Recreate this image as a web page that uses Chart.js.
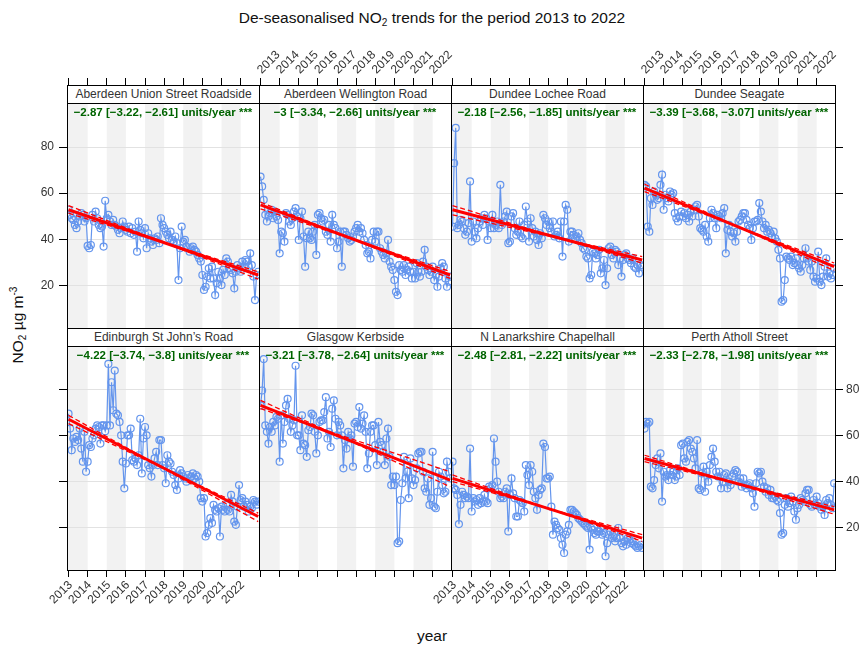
<!DOCTYPE html>
<html>
<head>
<meta charset="utf-8">
<script src="https://cdn.jsdelivr.net/npm/chart.js@4.4.1/dist/chart.umd.min.js"></script>
<style>
html,body{margin:0;padding:0;background:#fff;}
#wrap{position:relative;width:864px;height:648px;overflow:hidden;background:#fff;font-family:"Liberation Sans",Arial,Helvetica,sans-serif;}
#wrap canvas{position:absolute;left:0;top:0;}
.strip{position:absolute;box-sizing:border-box;border:1px solid #000;background:#fff;font-size:12px;color:#333;text-align:center;white-space:nowrap;}
.note{position:absolute;font-size:11.5px;font-weight:bold;color:#006400;text-align:center;white-space:nowrap;line-height:14px;}
#title{position:absolute;left:0;width:864px;top:9px;text-align:center;font-size:15.5px;line-height:18px;color:#111;}
#ylab{position:absolute;left:18px;top:325px;transform:translate(-50%,-50%) rotate(-90deg);white-space:nowrap;font-size:15.5px;color:#111;}
#xlab{position:absolute;left:432px;top:636px;transform:translate(-50%,-50%);font-size:15.5px;color:#111;}
sub{font-size:65%;vertical-align:-0.3em;line-height:0;}
sup{font-size:65%;vertical-align:0.6em;line-height:0;}
</style>
</head>
<body>
<div id="wrap">
  <div id="title">De-seasonalised NO<sub>2</sub> trends for the period 2013 to 2022</div>
  <div id="ylab">NO<sub>2</sub> µg m<sup>-3</sup></div>
  <div id="xlab">year</div>
</div>
<script>
// ---------- data ----------
const tickYears = [2013, 2014, 2015, 2016, 2017, 2018, 2019, 2020, 2021, 2022];
const tickLabels = ['2013', '2014', '2015', '2016', '2017', '2018', '2019', '2020', '2021', '2022'];
const yTicks = [20, 40, 60, 80];

const siteNames = [
  'Aberdeen Union Street Roadside', 'Aberdeen Wellington Road', 'Dundee Lochee Road', 'Dundee Seagate',
  'Edinburgh St John\u2019s Road', 'Glasgow Kerbside', 'N Lanarkshire Chapelhall', 'Perth Atholl Street'
];
const trendText = [
  '\u22122.87 [\u22123.22, \u22122.61] units/year ***',
  '\u22123 [\u22123.34, \u22122.66] units/year ***',
  '\u22122.18 [\u22122.56, \u22121.85] units/year ***',
  '\u22123.39 [\u22123.68, \u22123.07] units/year ***',
  '\u22124.22 [\u22123.74, \u22123.8] units/year ***',
  '\u22123.21 [\u22123.78, \u22122.64] units/year ***',
  '\u22122.48 [\u22122.81, \u22122.22] units/year ***',
  '\u22122.33 [\u22122.78, \u22121.98] units/year ***'
];

// monthly de-seasonalised NO2, Jan 2013 .. Dec 2022
const aberdeenUnion = [
  52.8, 50.6, 49.1, 48.4, 46.2, 44.8, 47.7, 49.9, 51.3, 50.6, 47.7, 49.1,
  37.1, 36.1, 37.5, 50.6, 47.7, 52.0, 49.1, 46.2, 44.8, 45.5, 36.8, 56.7,
  49.1, 50.6, 47.7, 46.2, 48.4, 46.2, 45.5, 44.1, 42.6, 44.8, 47.7, 45.5,
  44.1, 43.3, 45.5, 42.6, 44.8, 41.9, 43.3, 34.6, 47.7, 44.1, 42.6, 40.4,
  44.8, 36.1, 42.6, 40.4, 39.0, 37.5, 40.4, 39.7, 41.2, 38.3, 49.1, 46.2,
  44.8, 43.3, 41.9, 40.4, 43.3, 39.7, 39.0, 41.2, 38.3, 22.3, 36.1, 45.5,
  39.0, 39.7, 36.8, 36.1, 34.6, 36.1, 36.8, 35.4, 34.6, 33.2, 31.7, 30.3,
  24.5, 18.0, 19.4, 23.8, 27.4, 23.0, 28.1, 23.0, 15.8, 20.9, 25.9, 23.0,
  20.1, 26.7, 24.5, 31.7, 30.3, 27.4, 26.7, 25.2, 18.7, 25.9, 28.8, 27.4,
  25.9, 30.3, 28.1, 31.0, 30.3, 28.1, 33.9, 28.8, 23.8, 13.6, 24.5, 25.9
];
const aberdeenWellington = [
  67.2, 62.9, 57.1, 50.6, 47.7, 49.9, 51.3, 52.8, 49.1, 52.0, 49.9, 48.4,
  33.9, 43.3, 42.6, 39.0, 51.3, 50.6, 47.7, 46.2, 49.1, 52.0, 53.5, 49.9,
  39.7, 49.1, 52.0, 41.2, 28.1, 40.4, 43.3, 40.4, 39.7, 43.3, 46.2, 33.2,
  50.6, 51.3, 49.1, 47.7, 48.4, 43.3, 41.9, 46.2, 39.0, 50.6, 46.2, 44.8,
  36.1, 39.0, 43.3, 28.1, 43.3, 43.3, 41.9, 40.4, 39.0, 39.7, 41.2, 43.3,
  44.8, 46.2, 43.3, 44.8, 42.6, 39.7, 37.5, 33.9, 34.6, 31.7, 39.7, 43.3,
  39.0, 43.3, 43.3, 36.1, 34.6, 33.2, 31.7, 33.9, 39.7, 30.3, 28.1, 26.7,
  22.3, 17.2, 15.8, 28.8, 26.7, 25.9, 28.8, 24.5, 26.7, 28.1, 25.9, 23.0,
  25.9, 23.0, 29.6, 25.9, 23.8, 25.9, 30.3, 35.4, 28.1, 26.7, 24.5, 25.9,
  28.1, 22.3, 24.5, 19.4, 23.8, 27.4, 29.6, 28.1, 23.0, 19.4, 21.6, 23.8
];
const dundeeLochee = [
  45.5, 73.0, 88.3, 44.8, 46.2, 48.4, 47.7, 44.8, 41.9, 43.3, 47.0, 65.1,
  39.0, 47.7, 43.3, 40.4, 44.8, 47.7, 49.1, 46.2, 50.6, 49.1, 39.7, 47.7,
  44.8, 50.6, 44.8, 46.2, 47.7, 44.8, 63.6, 46.2, 47.7, 49.9, 52.0, 38.3,
  39.0, 49.9, 51.3, 44.8, 41.9, 43.3, 47.7, 41.2, 40.4, 46.2, 54.2, 47.7,
  39.0, 49.1, 44.8, 41.2, 43.3, 39.7, 37.5, 42.6, 40.4, 50.6, 49.1, 46.2,
  47.7, 44.8, 43.3, 47.7, 41.2, 41.9, 43.3, 40.4, 47.7, 32.5, 47.7, 54.9,
  52.8, 39.0, 43.3, 43.3, 41.9, 40.4, 41.2, 42.6, 39.7, 38.3, 36.1, 35.4,
  32.5, 31.7, 23.0, 24.5, 34.6, 33.9, 31.7, 33.2, 35.4, 25.2, 27.4, 31.0,
  20.1, 27.4, 36.1, 36.8, 33.2, 31.7, 35.4, 34.6, 28.8, 31.7, 23.8, 31.0,
  33.2, 33.9, 31.7, 31.0, 29.6, 31.7, 28.1, 27.4, 28.8, 25.2, 28.8, 28.1
];
const dundeeSeagate = [
  63.6, 62.9, 45.5, 43.3, 57.8, 54.9, 60.7, 59.3, 57.1, 57.8, 63.6, 68.0,
  52.8, 59.3, 57.8, 56.4, 60.7, 59.3, 60.0, 51.3, 49.1, 47.7, 49.9, 52.0,
  49.9, 51.3, 49.1, 50.6, 47.7, 52.0, 49.9, 52.8, 54.2, 54.9, 49.9, 44.8,
  44.1, 43.3, 46.2, 41.2, 39.0, 49.1, 52.8, 51.3, 49.1, 44.8, 50.6, 49.9,
  49.1, 51.3, 53.5, 33.9, 44.1, 46.2, 43.3, 41.2, 42.6, 39.0, 43.3, 47.7,
  48.4, 49.9, 51.3, 51.3, 48.4, 46.2, 44.8, 39.7, 44.8, 47.7, 47.7, 48.4,
  55.7, 52.0, 47.7, 44.8, 46.2, 43.3, 44.1, 42.6, 41.2, 43.3, 40.4, 39.0,
  35.4, 31.7, 12.9, 13.6, 22.3, 32.5, 31.7, 31.0, 32.5, 28.8, 29.6, 31.7,
  28.8, 27.4, 25.9, 28.8, 31.7, 36.1, 31.7, 30.3, 26.7, 30.3, 23.8, 21.6,
  23.0, 34.6, 21.6, 20.1, 23.8, 28.1, 31.7, 23.8, 25.2, 23.0, 24.5, 27.4
];
const edinburghStJohns = [
  69.6, 63.1, 53.7, 58.8, 57.3, 59.5, 58.1, 63.1, 54.4, 48.7, 61.7, 44.3,
  48.7, 55.9, 55.1, 58.8, 60.2, 63.1, 64.5, 63.8, 56.6, 64.5, 64.5, 62.0,
  64.5, 91.3, 64.5, 83.3, 71.1, 88.4, 69.6, 68.9, 66.0, 60.2, 48.7, 37.1,
  47.9, 60.2, 60.2, 63.1, 49.4, 48.7, 50.1, 47.2, 51.5, 67.4, 43.6, 58.8,
  63.8, 60.2, 47.2, 45.8, 42.2, 47.2, 50.1, 53.0, 47.2, 58.1, 58.1, 47.2,
  45.8, 39.3, 51.5, 48.7, 47.9, 44.3, 42.9, 38.5, 36.4, 41.4, 45.0, 43.6,
  42.2, 41.4, 40.0, 42.9, 41.4, 42.2, 43.6, 41.4, 42.9, 42.2, 40.0, 32.8,
  31.3, 32.8, 16.1, 17.6, 21.2, 24.1, 22.0, 29.9, 27.7, 27.0, 28.4, 16.1,
  29.1, 27.7, 27.0, 29.9, 27.7, 27.0, 34.2, 31.3, 22.6, 21.2, 29.1, 38.5,
  32.0, 32.8, 29.1, 31.3, 29.9, 27.0, 29.1, 28.4, 32.0, 31.3, 30.0, 31.3
];
const glasgowKerbside = [
  73.2, 79.7, 93.4, 64.5, 61.7, 56.6, 63.8, 61.7, 66.0, 64.5, 68.2, 67.4,
  48.7, 68.9, 56.6, 66.0, 73.2, 76.1, 67.4, 61.7, 64.5, 66.7, 90.5, 60.2,
  60.2, 53.7, 68.9, 56.6, 55.9, 50.8, 62.4, 63.8, 69.6, 68.9, 61.7, 52.3,
  60.2, 66.0, 66.7, 66.7, 70.3, 76.8, 58.8, 61.7, 55.1, 71.8, 75.4, 67.4,
  60.2, 66.0, 64.5, 60.2, 45.8, 58.1, 54.4, 61.7, 58.8, 60.2, 46.5, 65.3,
  66.0, 63.8, 72.5, 63.1, 65.3, 68.9, 61.7, 45.8, 52.3, 61.7, 64.5, 64.5,
  55.9, 47.2, 66.0, 57.3, 55.9, 53.0, 47.2, 58.8, 63.1, 50.8, 38.5, 42.2,
  38.5, 42.2, 13.2, 14.0, 32.0, 39.3, 50.8, 41.4, 44.3, 32.8, 50.1, 41.4,
  38.5, 40.7, 45.8, 52.3, 53.0, 53.0, 44.3, 37.1, 35.6, 41.4, 29.9, 32.8,
  53.0, 29.1, 28.4, 35.6, 44.3, 42.2, 38.5, 34.9, 35.6, 48.7, 44.3, 41.4
];
const nLanarkshire = [
  48.7, 37.1, 36.4, 34.2, 21.5, 29.9, 35.6, 34.2, 32.8, 33.5, 32.8, 54.4,
  27.0, 32.8, 31.3, 32.0, 29.9, 32.8, 30.6, 31.3, 34.2, 31.3, 30.6, 37.8,
  37.1, 38.5, 58.8, 48.7, 40.0, 35.6, 32.8, 33.5, 32.8, 35.6, 37.1, 18.3,
  34.2, 41.4, 34.9, 32.8, 24.8, 24.8, 32.0, 31.3, 30.6, 27.0, 47.2, 42.9,
  38.5, 47.2, 44.3, 35.6, 32.8, 27.7, 34.2, 36.4, 37.1, 56.6, 55.1, 41.4,
  41.4, 42.2, 29.1, 16.9, 22.6, 21.2, 19.8, 19.0, 15.4, 12.5, 8.9, 16.9,
  18.3, 21.2, 27.7, 27.7, 27.0, 26.3, 25.5, 24.1, 23.4, 22.6, 21.9, 21.2,
  20.5, 19.8, 10.4, 19.8, 19.0, 17.6, 16.9, 18.3, 18.3, 19.8, 16.9, 17.6,
  7.5, 13.2, 16.9, 18.3, 15.4, 16.1, 14.0, 15.4, 19.8, 15.4, 13.2, 11.8,
  14.0, 12.5, 15.4, 14.7, 13.2, 14.0, 12.5, 11.8, 11.1, 11.8, 12.5, 11.1
];
const perthAtholl = [
  63.1, 66.0, 65.3, 66.0, 37.8, 37.1, 40.7, 47.2, 50.1, 45.8, 52.3, 31.3,
  44.3, 42.2, 42.9, 40.7, 45.0, 42.9, 44.3, 40.7, 42.2, 45.8, 42.9, 55.9,
  56.6, 50.1, 48.7, 57.3, 58.1, 54.4, 53.0, 50.1, 45.8, 58.1, 37.1, 36.4,
  43.6, 46.5, 35.6, 44.3, 40.0, 47.2, 50.8, 54.4, 48.7, 44.3, 42.2, 44.3,
  37.1, 40.0, 42.9, 43.6, 37.1, 40.0, 38.5, 42.2, 43.6, 45.0, 44.3, 40.0,
  41.4, 37.8, 41.4, 38.5, 37.1, 38.5, 39.3, 37.1, 34.9, 29.1, 39.3, 44.3,
  43.6, 44.3, 40.0, 37.8, 35.6, 37.1, 34.2, 36.4, 32.8, 32.8, 33.5, 32.0,
  31.3, 26.3, 16.9, 17.6, 29.9, 32.8, 29.1, 30.6, 33.5, 31.3, 27.0, 23.4,
  28.4, 29.9, 32.8, 32.0, 31.3, 34.9, 36.4, 36.4, 29.9, 29.1, 32.0, 29.9,
  33.5, 30.6, 29.1, 27.7, 29.1, 25.5, 32.0, 30.6, 32.8, 29.9, 28.4, 39.3
];
const series = [aberdeenUnion, aberdeenWellington, dundeeLochee, dundeeSeagate,
                edinburghStJohns, glasgowKerbside, nLanarkshire, perthAtholl];

// Theil-Sen trend lines: [value at first month, value at last month]
const trendMain  = [[52.8, 24.5], [54.9, 24.5], [52.8, 31.0], [62.2, 28.1], [67.2, 24.8], [73.2, 40.7], [41.4, 15.4], [50.1, 27.7]];
const trendLower = [[54.6, 22.7], [56.1, 23.0], [54.6, 29.6], [63.9, 26.4], [68.9, 22.6], [75.4, 37.8], [42.9, 14.0], [51.5, 25.8]];
const trendUpper = [[51.3, 25.9], [53.2, 26.0], [50.6, 32.5], [60.7, 29.7], [65.3, 26.3], [71.8, 44.3], [40.0, 16.9], [48.7, 29.1]];

// ---------- layout / style ----------
const FONT = '"Liberation Sans", Arial, Helvetica, sans-serif';
const BLUE = '#6495ED';
const COL_L = [67, 259, 451, 643];
const PANEL_W = 192;
const ROW_TOP = [85, 328];
const ROW_BOT = [328, 570];
const STRIP_H = 18;
const X_MIN = 2012.92, X_MAX = 2022.96;
const Y_MIN = 1.5, Y_MAX = 99.1;

const wrap = document.getElementById('wrap');

const panelPlugin = {
  id: 'panelDecor',
  beforeDraw(chart) {
    const {ctx, chartArea: a} = chart;
    const x = chart.scales.x;
    const top = a.top + STRIP_H;
    ctx.save();
    ctx.fillStyle = '#f2f2f2';
    tickYears.forEach((yr, k) => {
      if (k % 2) return;
      const x0 = k === 0 ? a.left : x.getPixelForValue(yr);
      const x1 = Math.min(a.right, x.getPixelForValue(yr + 1));
      ctx.fillRect(x0, top, x1 - x0, a.bottom - top);
    });
    ctx.restore();
  },
  afterDraw(chart) {
    const {ctx, chartArea: a} = chart;
    ctx.save();
    ctx.strokeStyle = '#000';
    ctx.lineWidth = 1;
    ctx.strokeRect(Math.round(a.left) + 0.5, Math.round(a.top) + 0.5,
                   Math.round(a.right - a.left), Math.round(a.bottom - a.top));
    ctx.restore();
  }
};

const xFirst = tickYears[0];
const xLast = tickYears[0] + (aberdeenUnion.length - 1) / 12;

series.forEach((vals, p) => {
  const row = Math.floor(p / 4), col = p % 4;
  const L = COL_L[col], R = L + PANEL_W, T = ROW_TOP[row], B = ROW_BOT[row];
  const plotH = B - T - STRIP_H;
  const yMaxExt = Y_MAX + (Y_MAX - Y_MIN) * STRIP_H / plotH;
  const leftW = col === 0 ? 45 : 0;
  const rightW = col === 3 ? 29 : 0;
  const topH = row === 0 ? 50 : 0;
  const botH = row === 1 ? 50 : 0;

  const canvas = document.createElement('canvas');
  canvas.width = 864; canvas.height = 648;
  canvas.style.width = '864px'; canvas.style.height = '648px';
  wrap.appendChild(canvas);

  const yearTicks = s => { s.ticks = tickYears.map(v => ({value: v})); };
  const valTicks = s => { s.ticks = yTicks.map(v => ({value: v})); };
  const tickFont = {family: FONT, size: 12};
  const xTickCfg = (show, shift) => ({
    display: show, autoSkip: false, minRotation: 45, maxRotation: 45, padding: 1, labelOffset: shift,
    font: tickFont, color: '#333',
    callback: v => tickLabels[tickYears.indexOf(v)]
  });

  new Chart(canvas, {
    type: 'line',
    data: {
      datasets: [
        {
          data: trendMain[p].map((v, k) => ({x: k ? xLast : xFirst, y: v})),
          borderColor: '#ff0000', borderWidth: 3, pointRadius: 0, fill: false, order: 0, clip: 0
        },
        {
          data: trendLower[p].map((v, k) => ({x: k ? xLast : xFirst, y: v})),
          borderColor: '#ff0000', borderWidth: 1.3, borderDash: [5, 3], pointRadius: 0, fill: false, order: 0, clip: 0
        },
        {
          data: trendUpper[p].map((v, k) => ({x: k ? xLast : xFirst, y: v})),
          borderColor: '#ff0000', borderWidth: 1.3, borderDash: [5, 3], pointRadius: 0, fill: false, order: 0, clip: 0
        },
        {
          data: vals.map((v, i) => ({x: tickYears[0] + i / 12, y: v})),
          borderColor: BLUE, borderWidth: 1.2, fill: false, tension: 0,
          pointRadius: 3.5, pointBorderWidth: 1.2, pointBorderColor: BLUE,
          pointBackgroundColor: 'rgba(0,0,0,0)', order: 1, clip: 0
        }
      ]
    },
    options: {
      responsive: false, animation: false, devicePixelRatio: 1, events: [],
      layout: {autoPadding: false, padding: {left: L - leftW, right: 864 - R - rightW, top: T - topH, bottom: 648 - B - botH}},
      plugins: {legend: {display: false}, tooltip: {enabled: false}, title: {display: false}},
      scales: {
        x: {
          type: 'linear', position: 'bottom', min: X_MIN, max: X_MAX, display: row === 1,
          afterBuildTicks: yearTicks,
          afterFit: s => { s.height = botH; s.paddingLeft = 0; s.paddingRight = 0; },
          grid: {drawOnChartArea: false, drawTicks: true, tickLength: 7, tickColor: '#000', tickWidth: 1},
          border: {display: false},
          ticks: xTickCfg(col === 0 || col === 2, 2)
        },
        x2: {
          type: 'linear', position: 'top', min: X_MIN, max: X_MAX, display: row === 0,
          afterBuildTicks: yearTicks,
          afterFit: s => { s.height = topH; s.paddingLeft = 0; s.paddingRight = 0; },
          grid: {drawOnChartArea: false, drawTicks: true, tickLength: 7, tickColor: '#000', tickWidth: 1},
          border: {display: false},
          ticks: xTickCfg(col === 1 || col === 3, 9)
        },
        y: {
          type: 'linear', position: 'left', min: Y_MIN, max: yMaxExt, display: true,
          afterBuildTicks: valTicks,
          afterFit: s => { s.width = leftW; s.paddingTop = 0; s.paddingBottom = 0; },
          grid: {drawOnChartArea: true, color: '#e2e2e2', lineWidth: 1, drawTicks: col === 0, tickLength: 8, tickColor: '#000', tickWidth: 1},
          border: {display: false},
          ticks: {display: col === 0 && row === 0, padding: 5, font: {family: FONT, size: 12}, color: '#333'}
        },
        y2: {
          type: 'linear', position: 'right', min: Y_MIN, max: yMaxExt, display: col === 3,
          afterBuildTicks: valTicks,
          afterFit: s => { s.width = rightW; s.paddingTop = 0; s.paddingBottom = 0; },
          grid: {drawOnChartArea: false, drawTicks: true, tickLength: 8, tickColor: '#000', tickWidth: 1},
          border: {display: false},
          ticks: {display: row === 1, padding: 3, font: {family: FONT, size: 12}, color: '#333'}
        }
      }
    },
    plugins: [panelPlugin]
  });

  const strip = document.createElement('div');
  strip.className = 'strip';
  strip.style.left = L + 'px';
  strip.style.top = T + 'px';
  strip.style.width = (PANEL_W + 1) + 'px';
  strip.style.height = (STRIP_H + 1) + 'px';
  strip.style.lineHeight = (STRIP_H - 1) + 'px';
  strip.textContent = siteNames[p];
  wrap.appendChild(strip);

  const note = document.createElement('div');
  note.className = 'note';
  note.style.left = L + 'px';
  note.style.width = PANEL_W + 'px';
  note.style.top = (T + STRIP_H + 2) + 'px';
  note.textContent = trendText[p];
  wrap.appendChild(note);
});
</script>
</body>
</html>
